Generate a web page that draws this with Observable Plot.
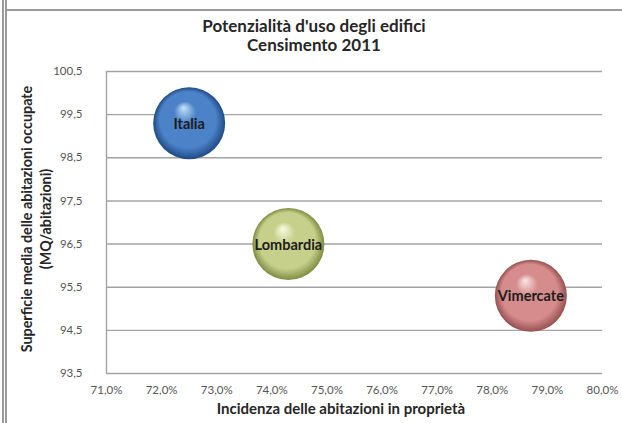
<!DOCTYPE html>
<html>
<head>
<meta charset="utf-8">
<script src="https://cdn.jsdelivr.net/npm/d3@7"></script>
<script src="https://cdn.jsdelivr.net/npm/@observablehq/plot@0.6"></script>
<style>
  html, body { margin: 0; padding: 0; background: #fff; }
  #wrap { position: relative; width: 622px; height: 423px; overflow: hidden; font-family: Lato, "Open Sans", sans-serif; }
  #wrap svg { position: absolute; left: 0; top: 0; }
  .border-l1 { position: absolute; left: 2px; top: 0; width: 1.5px; height: 423px; background: #9a9a9a; }
  .border-l2 { position: absolute; left: 5px; top: 0; width: 1.5px; height: 423px; background: #9a9a9a; }
  .border-t { position: absolute; left: 6px; top: 9px; width: 616px; height: 2px; background: #9a9a9a; }
  .title { position: absolute; left: 0; width: 628px; top: 16px; text-align: center; font-weight: bold; font-size: 17px; line-height: 19px; color: #262626; }
  .xtitle { position: absolute; left: 86px; width: 510px; top: 399px; text-align: center; font-weight: bold; font-size: 15px; color: #262626; }
  .ytitle { position: absolute; left: 36px; top: 219px; width: 340px; transform: translate(-50%, -50%) rotate(-90deg); text-align: center; font-weight: bold; font-size: 14.3px; line-height: 19px; color: #262626; }
</style>
</head>
<body>
<div id="wrap">
  <div class="border-l1"></div>
  <div class="border-l2"></div>
  <div class="border-t"></div>
</div>
<script>
// Data
const places = ["Italia", "Lombardia", "Vimercate"];
const ownership = [72.5, 74.3, 78.7];      // Incidenza delle abitazioni in proprietà (%)
const surface = [99.3, 96.5, 95.3];        // Superficie media (MQ/abitazioni)
const xTicks = [71, 72, 73, 74, 75, 76, 77, 78, 79, 80];
const yTicks = [93.5, 94.5, 95.5, 96.5, 97.5, 98.5, 99.5, 100.5];
const titleLines = ["Potenzialità d'uso degli edifici", "Censimento 2011"];
const xTitle = "Incidenza delle abitazioni in proprietà";
const yTitleLines = ["Superficie media delle abitazioni occupate", "(MQ/abitazioni)"];

// Gradient palettes (highlight, base, edge)
const palettes = [
  ["#c4e6fa", "#4c82c8", "#1f4a85"],
  ["#fbfce6", "#c6d08a", "#7f8c44"],
  ["#fbe6e6", "#d68c8c", "#94504f"]
];

const data = places.map((p, i) => ({name: p, x: ownership[i], y: surface[i], fill: `url(#ball${i})`}));

const fmtX = d => d.toFixed(1).replace(".", ",") + "%";
const fmtY = d => d.toFixed(1).replace(".", ",");

const chart = Plot.plot({
  width: 622,
  height: 423,
  marginTop: 71,
  marginBottom: 50,
  marginLeft: 106,
  marginRight: 20,
  style: {fontFamily: "Lato, 'Open Sans', sans-serif", background: "transparent"},
  x: {domain: [71, 80], axis: null},
  y: {domain: [93.5, 100.5], axis: null},
  color: {type: "identity"},
  marks: [
    Plot.ruleY(yTicks, {stroke: "#a3a3a3", strokeWidth: 1.4}),
    Plot.ruleX([71], {y1: 93.5, y2: 100.5, stroke: "#a3a3a3", strokeWidth: 1.4}),
    Plot.text(yTicks, {x: 71, y: d => d, text: fmtY, dx: -24, textAnchor: "end", fontSize: 11.5, fill: "#555"}),
    Plot.text(xTicks, {x: d => d, y: 93.5, text: fmtX, dy: 17, fontSize: 11.5, fill: "#555"}),
    Plot.dot(data, {x: "x", y: "y", r: 36, fill: "fill", stroke: "none"}),
    Plot.text(data, {x: "x", y: "y", text: "name", fontSize: 14.5, fontWeight: "bold", fill: "#1c1c1c", dy: 1})
  ]
});

// Radial gradient definitions for the spheres
const defs = d3.select(chart).insert("defs", ":first-child");
palettes.forEach((pal, i) => {
  const g = defs.append("radialGradient").attr("id", `ball${i}`)
    .attr("cx", "50%").attr("cy", "50%").attr("r", "50%")
    .attr("fx", "42%").attr("fy", "28%");
  g.append("stop").attr("offset", "0%").attr("stop-color", pal[0]);
  g.append("stop").attr("offset", "30%").attr("stop-color", pal[1]);
  g.append("stop").attr("offset", "78%").attr("stop-color", pal[1]);
  g.append("stop").attr("offset", "100%").attr("stop-color", pal[2]);
});

const wrap = document.getElementById("wrap");
wrap.appendChild(chart);

const t = document.createElement("div");
t.className = "title";
t.innerHTML = titleLines.join("<br>");
wrap.appendChild(t);

const xt = document.createElement("div");
xt.className = "xtitle";
xt.textContent = xTitle;
wrap.appendChild(xt);

const yt = document.createElement("div");
yt.className = "ytitle";
yt.innerHTML = yTitleLines.join("<br>");
wrap.appendChild(yt);
</script>
</body>
</html>
